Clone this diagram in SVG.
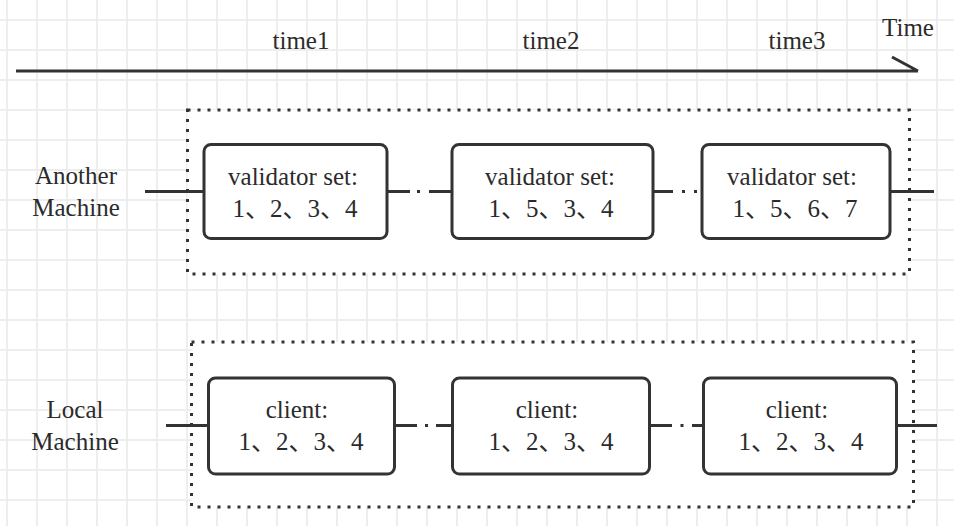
<svg xmlns="http://www.w3.org/2000/svg" width="954" height="526" viewBox="0 0 954 526">
<style>
text{font-family:"Liberation Serif","Noto Sans CJK SC",serif;font-size:25px;fill:#2b2b2b;text-anchor:middle}
.box{fill:#fff;stroke:#333;stroke-width:3}
.group{fill:#fff;stroke:#333;stroke-width:3;stroke-dasharray:3 7}
.ln{fill:none;stroke:#333;stroke-width:3}
</style>
<defs>
<pattern id="grid" width="30" height="30" patternUnits="userSpaceOnUse" x="6" y="19">
<path d="M0 1H30M1 0V30" stroke="#eeeeee" stroke-width="2" fill="none"/>
</pattern>
</defs>
<rect width="954" height="526" fill="#fff"/>
<rect width="954" height="526" fill="url(#grid)"/>

<g id="timeline">
<path class="ln" d="M16 71H918M918 71L892 57"/>
<text x="908" y="36">Time</text>
<text x="301" y="49">time1</text>
<text x="551" y="49">time2</text>
<text x="797" y="49">time3</text>
</g>

<g id="another-machine-group">
<rect class="group" x="187.5" y="110" width="722" height="164"/>
</g>
<g id="local-machine-group">
<rect class="group" x="191.5" y="342" width="722" height="165"/>
</g>

<g id="labels">
<text x="76" y="184">Another</text>
<text x="76" y="216">Machine</text>
<text x="75" y="418">Local</text>
<text x="75" y="450">Machine</text>
</g>

<g id="connectors">
<path class="ln" d="M145 191.5H204"/>
<path class="ln" d="M387 191.5H452" stroke-dasharray="23 7 3 9 30"/>
<path class="ln" d="M653 191.5H702" stroke-dasharray="20 9 3 9 3 10"/>
<path class="ln" d="M889 191.5H934"/>
<path class="ln" d="M166 425.5H209"/>
<path class="ln" d="M394 425.5H453" stroke-dasharray="23 8 3 8 30"/>
<path class="ln" d="M649 425.5H704" stroke-dasharray="23 8.5 3 8.5 20"/>
<path class="ln" d="M896 425.5H937"/>
</g>

<g id="validator-set-1">
<rect class="box" x="204" y="144.5" width="183" height="94" rx="7"/>
<text x="293" y="185">validator set:</text>
<text x="295" y="217">1、2、3、4</text>
</g>
<g id="validator-set-2">
<rect class="box" x="452" y="144.5" width="201" height="94" rx="7"/>
<text x="550" y="185">validator set:</text>
<text x="551" y="217">1、5、3、4</text>
</g>
<g id="validator-set-3">
<rect class="box" x="702" y="144.5" width="188" height="94" rx="7"/>
<text x="792" y="185">validator set:</text>
<text x="795" y="217">1、5、6、7</text>
</g>

<g id="client-1">
<rect class="box" x="208.5" y="378" width="186" height="96" rx="7"/>
<text x="297" y="418">client:</text>
<text x="301" y="450">1、2、3、4</text>
</g>
<g id="client-2">
<rect class="box" x="452.5" y="378" width="197" height="96" rx="7"/>
<text x="547" y="418">client:</text>
<text x="551" y="450">1、2、3、4</text>
</g>
<g id="client-3">
<rect class="box" x="703.5" y="378" width="193" height="96" rx="7"/>
<text x="797" y="418">client:</text>
<text x="801" y="450">1、2、3、4</text>
</g>
</svg>
